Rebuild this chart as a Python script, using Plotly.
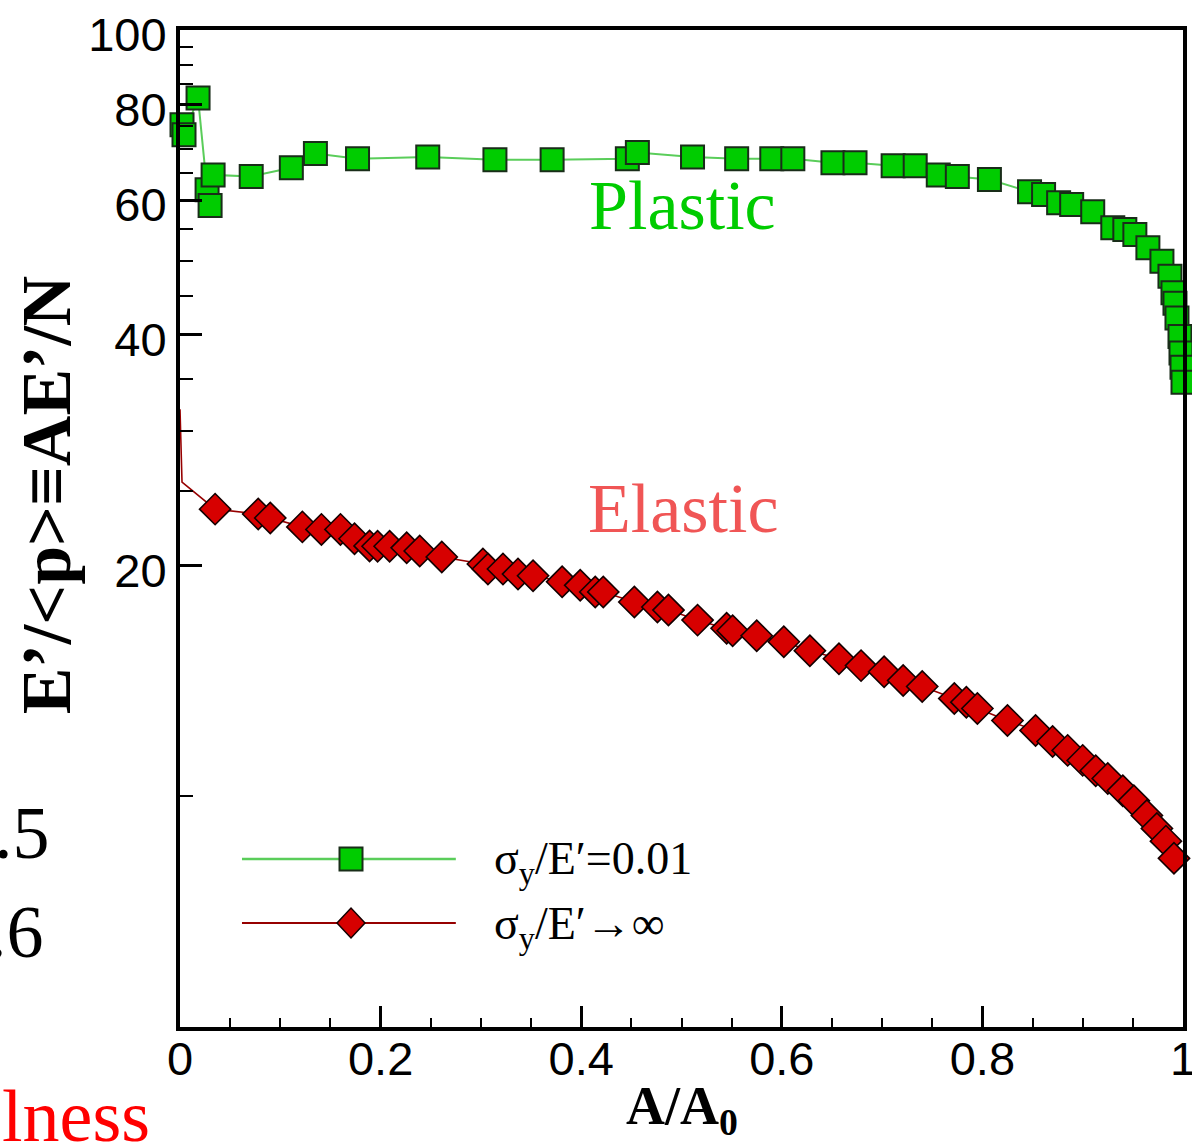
import numpy as np
import plotly.graph_objects as go

# --- data -----------------------------------------------------------------
# sigma_y/E' = 0.01 (plastic contact)
plastic_x = [0.002, 0.004, 0.018, 0.027, 0.030, 0.033, 0.071, 0.111, 0.135, 0.177,
             0.247, 0.314, 0.371, 0.446, 0.456, 0.511, 0.555, 0.590, 0.611, 0.651,
             0.673, 0.711, 0.733, 0.756, 0.775, 0.807, 0.847, 0.861, 0.876, 0.889,
             0.910, 0.930, 0.942, 0.952, 0.965, 0.979, 0.987, 0.990, 0.992, 0.994,
             0.997, 0.998, 0.999, 1.000]
plastic_y = [75.2, 73.0, 81.5, 61.9, 59.0, 64.7, 64.4, 66.1, 69.0, 67.9,
             68.3, 67.7, 67.7, 67.9, 69.2, 68.3, 67.9, 67.9, 67.9, 67.1,
             67.1, 66.5, 66.5, 64.7, 64.4, 63.8, 61.5, 61.0, 59.5, 59.2,
             57.9, 55.2, 54.9, 54.1, 52.0, 49.9, 47.7, 45.4, 44.0, 42.1,
             39.8, 37.9, 36.3, 34.7]

# sigma_y/E' -> infinity (purely elastic contact)
elastic_x = [0.000, 0.002, 0.035, 0.078, 0.090, 0.122, 0.141, 0.160, 0.174, 0.189,
             0.197, 0.209, 0.226, 0.239, 0.261, 0.302, 0.307, 0.322, 0.337, 0.352,
             0.381, 0.399, 0.414, 0.422, 0.453, 0.476, 0.487, 0.516, 0.545, 0.551,
             0.575, 0.602, 0.628, 0.657, 0.679, 0.702, 0.721, 0.740, 0.772, 0.784,
             0.795, 0.825, 0.853, 0.870, 0.885, 0.900, 0.913, 0.925, 0.940, 0.951,
             0.964, 0.974, 0.983, 0.991]
elastic_y = [32.0, 25.7, 23.7, 23.36, 23.08, 22.47, 22.3, 22.3, 21.68, 21.22,
             21.2, 21.2, 21.1, 20.9, 20.53, 20.1, 19.8, 19.8, 19.5, 19.4,
             19.05, 18.85, 18.48, 18.48, 17.93, 17.66, 17.5, 16.98, 16.57, 16.45,
             16.2, 15.91, 15.49, 15.12, 14.81, 14.54, 14.16, 13.91, 13.42, 13.27,
             13.02, 12.56, 12.19, 11.79, 11.48, 11.14, 10.8, 10.55, 10.17, 9.87,
             9.44, 9.08, 8.74, 8.3]

x_tickvals = [0, 0.2, 0.4, 0.6, 0.8, 1]
x_ticktext = ["0", "0.2", "0.4", "0.6", "0.8", "1"]
y_tickvals = [20, 40, 60, 80, 100]
y_ticktext = ["20", "40", "60", "80", "100"]
y_minorvals = [10, 25, 30, 35, 45, 50, 55, 65, 70, 75, 85, 90, 95]

legend_labels = ["σ<sub>y</sub>/E′=0.01", "σ<sub>y</sub>/E′→∞"]

# --- styling --------------------------------------------------------------
GREEN_FILL = "rgb(0,204,0)"
GREEN_LINE = "rgb(90,205,90)"
GREEN_EDGE = "rgb(25,45,25)"
RED_FILL = "rgb(215,0,0)"
RED_LINE = "rgb(150,0,0)"
RED_EDGE = "rgb(20,0,0)"
SERIF = "Liberation Serif, Times New Roman, serif"
TICKFONT = "Liberation Sans, Arial, sans-serif"

fig = go.Figure()

# plastic curve
fig.add_trace(go.Scatter(
    x=plastic_x, y=plastic_y, mode="lines+markers", cliponaxis=False,
    line=dict(color=GREEN_LINE, width=2),
    marker=dict(symbol="square", size=23, color=GREEN_FILL,
                line=dict(color=GREEN_EDGE, width=2)),
    showlegend=False, hoverinfo="x+y"))

# elastic curve: the first two samples sit on the left axis and carry no symbol
ex = np.array(elastic_x)
ey = np.array(elastic_y)
fig.add_trace(go.Scatter(
    x=ex, y=ey, mode="lines", line=dict(color=RED_LINE, width=1.6),
    showlegend=False, hoverinfo="skip"))
shown = ex > 0.01
fig.add_trace(go.Scatter(
    x=ex[shown], y=ey[shown], mode="markers", cliponaxis=False,
    marker=dict(symbol="diamond", size=24, color=RED_FILL,
                line=dict(color=RED_EDGE, width=1.6)),
    showlegend=False, hoverinfo="x+y"))

axis_common = dict(showgrid=False, zeroline=False, showline=True, linewidth=4,
                   linecolor="black", mirror=True, ticks="inside",
                   tickcolor="black", tickwidth=3, automargin=False,
                   ticklabeloverflow="allow",
                   tickfont=dict(family=TICKFONT, size=47, color="black"))

fig.update_xaxes(range=[0, 1], tickvals=x_tickvals, ticktext=x_ticktext,
                 ticklen=21, ticklabelstandoff=-12,
                 minor=dict(dtick=0.05, ticks="inside", ticklen=9,
                            tickwidth=2, tickcolor="black"),
                 **axis_common)
fig.update_yaxes(type="log", range=[np.log10(5), 2], tickvals=y_tickvals,
                 ticktext=y_ticktext, ticklen=22, ticklabelstandoff=0,
                 ticklabelshift=5,
                 minor=dict(tickvals=y_minorvals, ticks="inside", ticklen=13,
                            tickwidth=2, tickcolor="black"),
                 **axis_common)

annotations = [
    # axis titles
    dict(text="<b>E’/&lt;p&gt;≡AE’/N</b>", x=-0.133, y=0.534, xref="paper",
         yref="paper", xanchor="center", yanchor="middle", textangle=-90,
         showarrow=False, font=dict(family=SERIF, size=70, color="black")),
    dict(text="<b>A/A<sub>0</sub></b>", x=0.5, y=-0.047, xref="paper",
         yref="paper", xanchor="center", yanchor="top", showarrow=False,
         font=dict(family=SERIF, size=54, color="black")),
    # regime labels
    dict(text="Plastic", x=0.501, y=0.8235, xref="paper", yref="paper",
         xanchor="center", yanchor="middle", showarrow=False,
         font=dict(family=SERIF, size=70, color=GREEN_FILL)),
    dict(text="Elastic", x=0.5015, y=0.5196, xref="paper", yref="paper",
         xanchor="center", yanchor="middle", showarrow=False,
         font=dict(family=SERIF, size=70, color="rgb(240,85,85)")),
    # legend text
    dict(text=legend_labels[0], x=0.311, y=0.165, xref="paper", yref="paper",
         xanchor="left", yanchor="middle", showarrow=False,
         font=dict(family=SERIF, size=46, color="black")),
    dict(text=legend_labels[1], x=0.311, y=0.100, xref="paper", yref="paper",
         xanchor="left", yanchor="middle", showarrow=False,
         font=dict(family=SERIF, size=46, color="black")),
    # fragments of the neighbouring panel
    dict(text=".5", x=-0.1276, y=0.1946, xref="paper", yref="paper",
         xanchor="right", yanchor="middle", showarrow=False,
         font=dict(family=SERIF, size=74, color="black")),
    dict(text=".6", x=-0.1336, y=0.0953, xref="paper", yref="paper",
         xanchor="right", yanchor="middle", showarrow=False,
         font=dict(family=SERIF, size=74, color="black")),
    dict(text="lness", x=-0.1795, y=-0.046, xref="paper", yref="paper",
         xanchor="left", yanchor="top", showarrow=False,
         font=dict(family=SERIF, size=74, color="rgb(255,0,0)")),
]

# legend keys
leg_x0, leg_x1, leg_mx = 0.0618, 0.275, 0.1705
leg_rows = [0.1685, 0.1043]
shapes = [
    dict(type="line", xref="paper", yref="paper", x0=leg_x0, x1=leg_x1,
         y0=leg_rows[0], y1=leg_rows[0], line=dict(color=GREEN_LINE, width=2.5)),
    dict(type="line", xref="paper", yref="paper", x0=leg_x0, x1=leg_x1,
         y0=leg_rows[1], y1=leg_rows[1], line=dict(color=RED_LINE, width=2)),
    dict(type="rect", xref="paper", yref="paper", xsizemode="pixel",
         ysizemode="pixel", xanchor=leg_mx, yanchor=leg_rows[0],
         x0=-11.5, x1=11.5, y0=-11.5, y1=11.5, fillcolor=GREEN_FILL,
         line=dict(color=GREEN_EDGE, width=2)),
    dict(type="path", xref="paper", yref="paper", xsizemode="pixel",
         ysizemode="pixel", xanchor=leg_mx, yanchor=leg_rows[1],
         path="M -14 0 L 0 15 L 14 0 L 0 -15 Z", fillcolor=RED_FILL,
         line=dict(color=RED_EDGE, width=1.5)),
]

fig.update_layout(
    width=1192, height=1147,
    margin=dict(l=180, r=9, t=30, b=120, autoexpand=False),
    paper_bgcolor="white", plot_bgcolor="white",
    annotations=annotations, shapes=shapes, showlegend=False,
)

fig.write_html("out.html")
